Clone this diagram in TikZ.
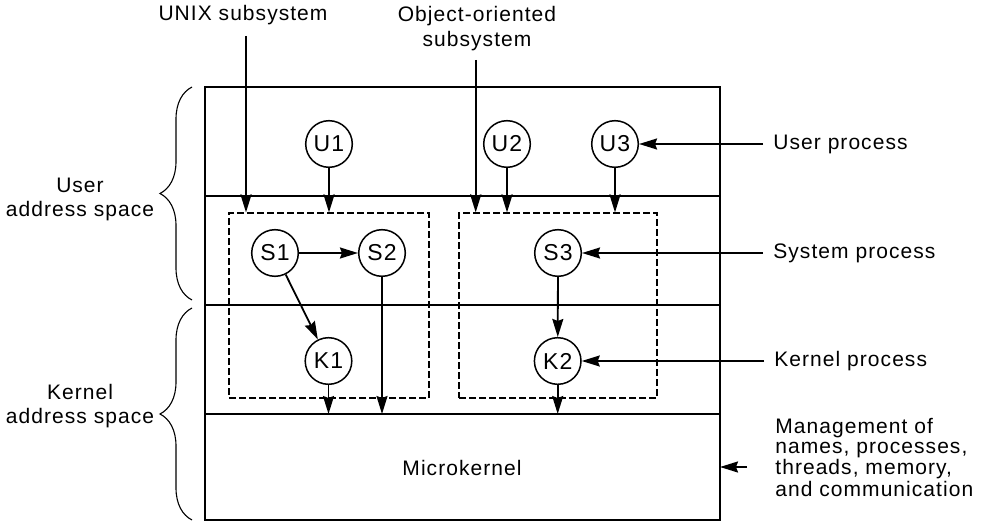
\documentclass[tikz,border=0pt]{standalone}
\usepackage{fontspec}
\setmainfont{Liberation Sans}[LetterSpace=5]
\usetikzlibrary{arrows.meta,decorations.pathreplacing,calc}
\begin{document}
\begin{tikzpicture}[x=0.5pt,y=-0.5pt,
  font=\fontsize{10.5}{12.2}\selectfont,
  proc/.style={circle,draw,line width=0.75pt,fill=white,minimum size=23.3pt,inner sep=0pt,font=\fontsize{11.5}{12}\selectfont},
  arr/.style={line width=0.9pt,-{Stealth[length=9pt,width=5.5pt,inset=1pt]}},
  dbox/.style={draw,dash pattern=on 3.5pt off 1.5pt,line width=0.6pt,inner sep=0pt},
  lbl/.style={anchor=west,inner xsep=5pt,inner ysep=0pt},
  frame/.style={line width=1pt},
  bracestyle/.style={decorate,decoration={brace,amplitude=16pt},line width=0.55pt}]

\useasboundingbox (0,0) rectangle (986,524);

% outer frame and layers
\draw[frame] (205,87) rectangle (720,520);
\draw[frame] (205,196) -- (720,196);
\draw[frame] (205,305) -- (720,305);
\draw[frame] (205,414) -- (720,414);

% dashed subsystem boxes
\node[dbox,minimum width=100pt,minimum height=92.5pt] (ux) at (329,305.5) {};
\node[dbox,minimum width=99pt,minimum height=92.5pt] (oo) at (558,305.5) {};

% braces
\draw[bracestyle] (192,300) -- (192,87);
\draw[bracestyle] (192,520) -- (192,308);

% left labels
\node[align=center] (ua) at (80,199.5) {User\\address space};
\node[align=center] (ka) at (80,406) {Kernel\\address space};

% top labels
\node (ul) at (243,15) {UNIX subsystem};
\node[align=center,font=\fontsize{10.5}{12.5}\selectfont] (ol) at (477,29) {Object-oriented\\subsystem};

% microkernel
\node (mk) at (462,468) {Microkernel};

% processes
\node[proc] (U1) at (329,144) {U1};
\node[proc] (U2) at (507,144) {U2};
\node[proc] (U3) at (615,144) {U3};
\node[proc] (S1) at (275,253) {S1};
\node[proc] (S2) at (382,253) {S2};
\node[proc] (S3) at (558,253) {S3};
\node[proc] (K1) at (328.5,361) {K1};
\node[proc] (K2) at (557.7,361) {K2};

% coordinates
\coordinate (uxtop) at (246,36);
\coordinate (ootop) at (475.7,60);
\coordinate (mkN) at (462,414);
\coordinate (mgA) at (747,467);
\coordinate (mkE) at (720,467);

% arrows
\draw[arr] (uxtop) -- (uxtop |- ux.north);
\draw[arr] (ootop) -- (ootop |- oo.north);
\draw[arr] (U1) -- (U1 |- ux.north);
\draw[arr] (U2) -- (U2 |- oo.north);
\draw[arr] (U3) -- (U3 |- oo.north);
\draw[arr] (S1) -- (S2);
\draw[arr] (S1) -- (K1);
\draw[arr] (S3) -- (K2);
\draw[arr] (K1) -- (K1 |- mkN);
\draw[arr] (S2) -- (S2 |- mkN);
\draw[arr] (K2) -- (K2 |- mkN);

% right labels
\node[lbl] (lu) at (763,144) {User process};
\draw[arr] (lu.west) -- (U3);
\node[lbl] (ls) at (763,253) {System process};
\draw[arr] (ls.west) -- (S3);
\node[lbl] (lk) at (764,361) {Kernel process};
\draw[arr] (lk.west) -- (K2);

\node[anchor=west,align=left,inner sep=0pt,font=\fontsize{10.5}{9.6}\selectfont] (mg) at (775,457.5) {Management of\\names, processes,\\threads, memory,\\and communication};
\draw[arr] (mgA) -- (mkE);
\end{tikzpicture}
\end{document}
